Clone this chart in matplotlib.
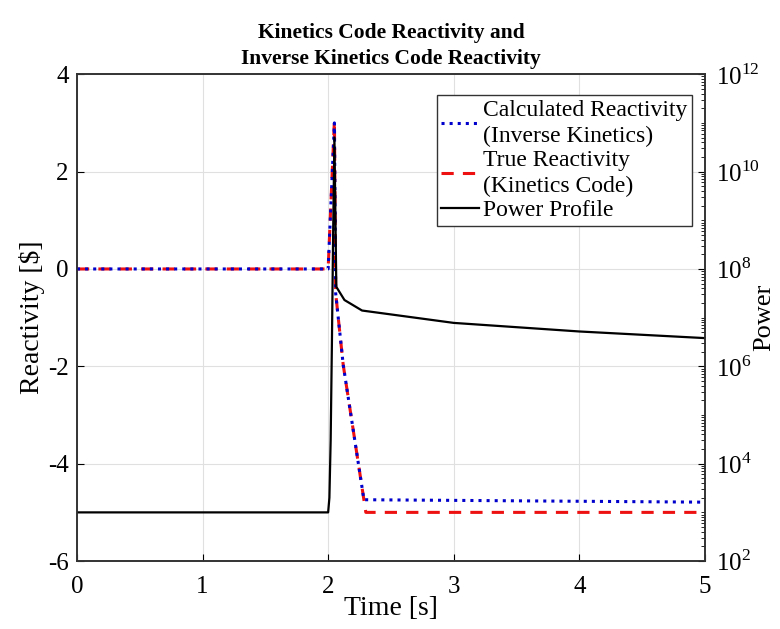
import math
import matplotlib
matplotlib.use("Agg")
import matplotlib.pyplot as plt
from matplotlib.ticker import LogLocator, FixedLocator, FuncFormatter, NullFormatter

plt.rcParams['font.family'] = ['Liberation Serif', 'DejaVu Serif']
plt.rcParams['mathtext.fontset'] = 'custom'
plt.rcParams['mathtext.rm'] = 'Liberation Serif'
plt.rcParams['axes.unicode_minus'] = False

# Data
t_react = [0.0, 2.0, 2.05, 2.06, 2.12, 2.245, 2.285, 5.0]
calc_react = [0.0, 0.0, 3.0, -0.5, -1.97, -4.07, -4.74, -4.79]
t_true = [0.0, 2.0, 2.05, 2.06, 2.12, 2.245, 2.30, 5.0]
true_react = [0.0, 0.0, 3.05, -0.5, -1.97, -4.07, -5.0, -5.0]

t_power = [0.0, 2.0, 2.01, 2.02, 2.03, 2.04, 2.05, 2.065, 2.13, 2.27, 3.0, 4.0, 5.0]
power = [1e3, 1e3, 2e3, 3e4, 3e6, 6e8, 5e10, 4.3e7, 2.3e7, 1.4e7, 7.8e6, 5.2e6, 3.8e6]

x_ticks = [0, 1, 2, 3, 4, 5]
y_ticks = [-6, -4, -2, 0, 2, 4]
p_ticks = [1e2, 1e4, 1e6, 1e8, 1e10, 1e12]

fig = plt.figure(figsize=(7.8, 6.29), dpi=100)
ax = fig.add_axes([0.0987, 0.108, 0.805, 0.774])
ax2 = ax.twinx()

ax.set_xlim(0, 5)
ax.set_ylim(-6, 4)
ax.set_xticks(x_ticks)
ax.set_yticks(y_ticks)
ax.grid(True, color='#e0e0e0', linewidth=0.8)
ax.set_axisbelow(True)

l1, = ax.plot(t_react, calc_react, color='#0000cc', linestyle=':', linewidth=2.2,
              label='Calculated Reactivity\n(Inverse Kinetics)', zorder=3)
l2, = ax.plot(t_true, true_react, color='#ee1111', linestyle=(0, (4, 3)), linewidth=2.2,
              label='True Reactivity\n(Kinetics Code)', zorder=2)

l3, = ax2.plot(t_power, power, color='black', linewidth=1.6, label='Power Profile')
ax2.set_yscale('log')
ax2.set_ylim(1e2, 1e12)
ax2.yaxis.set_major_locator(FixedLocator(p_ticks))
ax2.yaxis.set_major_formatter(FuncFormatter(lambda v, p: r'$10^{%d}$' % round(math.log10(v))))
ax2.yaxis.set_minor_locator(LogLocator(base=10, subs=[1, 2, 3, 4, 5, 6, 7, 8, 9], numticks=50))
ax2.yaxis.set_minor_formatter(NullFormatter())

for a in (ax, ax2):
    a.tick_params(labelsize=18, direction='in', length=5, width=0.8)
    for s in a.spines.values():
        s.set_linewidth(1.2)
        s.set_color('#333333')
ax.tick_params(axis='x', pad=11)
ax.tick_params(axis='y', pad=6)
ax2.tick_params(axis='y', pad=8)
ax2.tick_params(which='minor', direction='in', length=3)

ax.set_xlabel('Time [s]', fontsize=20, labelpad=-2)
ax.set_ylabel('Reactivity [$]', fontsize=20, labelpad=2)
ax2.set_ylabel('Power', fontsize=19, labelpad=-5)
ax.set_title('Kinetics Code Reactivity and\nInverse Kinetics Code Reactivity',
             fontsize=15.5, fontweight='bold', pad=7, linespacing=1.45)

leg = ax2.legend(handles=[l1, l2, l3], loc='upper right', fontsize=17,
                 bbox_to_anchor=(0.979, 0.957), borderaxespad=0,
                 frameon=True, fancybox=False, edgecolor='#333333', framealpha=1,
                 handlelength=1.6, handletextpad=0.15, borderpad=0.2,
                 labelspacing=0.12)
for txt in leg.get_texts():
    txt.set_linespacing(1.3)
leg.get_frame().set_linewidth(1.0)

fig.savefig('out.png', dpi=100)
